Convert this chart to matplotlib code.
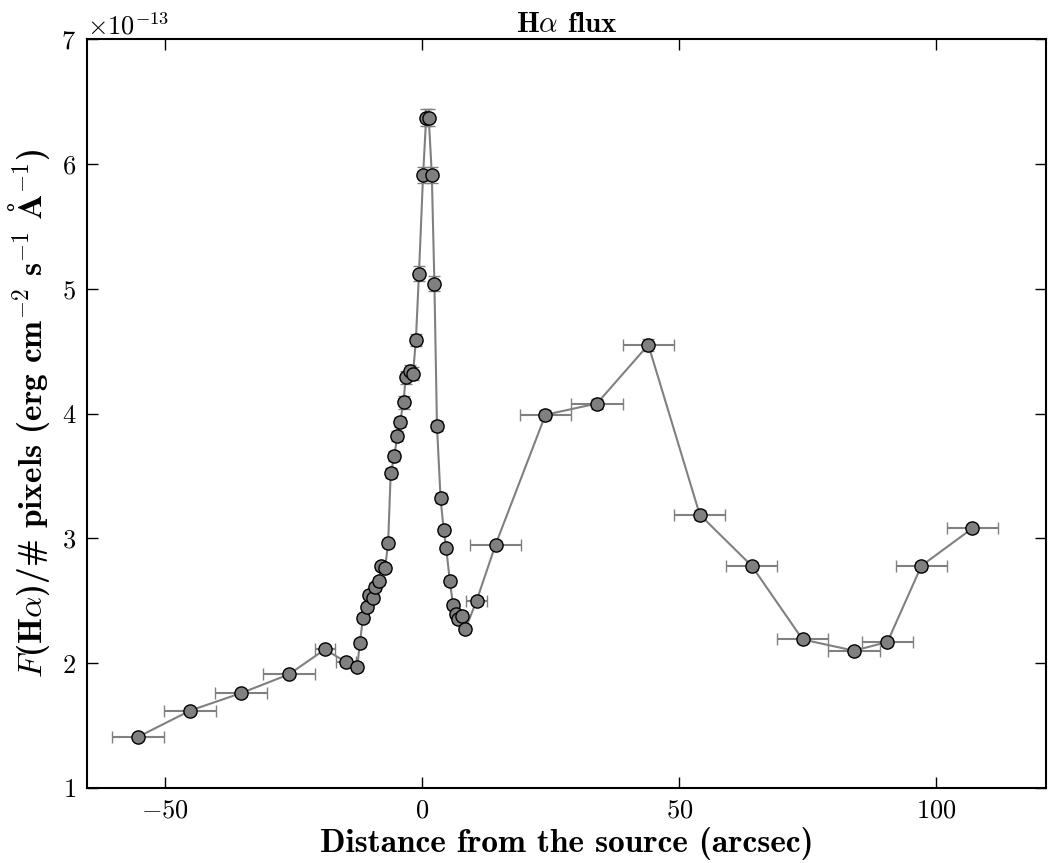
import numpy as np
import matplotlib
matplotlib.use('Agg')
import matplotlib.pyplot as plt

#Distance from the source (arcsec), flux per pixel (units of 1e-13) and errors
distance = [-55.2, -45.1, -35.2, -25.9, -18.9, -14.8, -12.6, -12.1, -11.5, -10.8,
            -10.3, -9.6, -9.1, -8.4, -7.9, -7.2, -6.6, -6.1, -5.4, -4.8,
            -4.3, -3.6, -3.2, -2.4, -1.75, -1.2, -0.6, 0.2, 0.8, 1.3,
            1.9, 2.4, 2.9, 3.6, 4.2, 4.7, 5.4, 6.0, 6.6, 7.0,
            7.8, 8.4, 10.6, 14.3, 24.0, 34.0, 44.0, 54.0, 64.1, 74.0,
            84.0, 90.5, 97.1, 107.0]
flux = [1.41, 1.62, 1.76, 1.91, 2.11, 2.01, 1.97, 2.16, 2.36, 2.45,
        2.55, 2.52, 2.61, 2.66, 2.78, 2.76, 2.96, 3.52, 3.66, 3.82,
        3.93, 4.09, 4.29, 4.34, 4.32, 4.59, 5.12, 5.91, 6.37, 6.37,
        5.91, 5.04, 3.90, 3.32, 3.07, 2.92, 2.66, 2.47, 2.39, 2.35,
        2.38, 2.27, 2.50, 2.95, 3.99, 4.08, 4.55, 3.19, 2.78, 2.19,
        2.10, 2.17, 2.78, 3.08]
distance_err = [5, 5, 5, 5, 2, 2, 0.3, 0.3, 0.3, 0.3,
                0.3, 0.3, 0.3, 0.3, 0.3, 0.3, 0.3, 0.3, 0.3, 0.3,
                0.3, 0.3, 0.3, 0.3, 0.3, 0.3, 0.3, 0.3, 0.3, 0.3,
                0.3, 0.3, 0.3, 0.3, 0.3, 0.3, 0.3, 0.3, 0.3, 0.3,
                0.3, 0.3, 2, 5, 5, 5, 5, 5, 5, 5,
                5, 5, 5, 5]
flux_err = [0.02, 0.02, 0.02, 0.02, 0.03, 0.03, 0.03, 0.03, 0.03, 0.03,
            0.03, 0.03, 0.03, 0.03, 0.03, 0.03, 0.03, 0.04, 0.04, 0.04,
            0.04, 0.05, 0.05, 0.05, 0.05, 0.05, 0.06, 0.065, 0.07, 0.07,
            0.065, 0.06, 0.04, 0.04, 0.03, 0.03, 0.03, 0.03, 0.03, 0.03,
            0.03, 0.03, 0.03, 0.03, 0.04, 0.04, 0.05, 0.04, 0.03, 0.03,
            0.03, 0.03, 0.03, 0.03]

x = np.array(distance)
y = np.array(flux) * 1e-13
xerr = np.array(distance_err)
yerr = np.array(flux_err) * 1e-13

plt.rcParams['mathtext.fontset'] = 'cm'
plt.rcParams['font.family'] = ['cmr10', 'DejaVu Serif']
plt.rcParams['axes.formatter.use_mathtext'] = True
plt.rcParams['axes.unicode_minus'] = True

fig = plt.figure(figsize=(10.49, 8.63), dpi=100)
ax = fig.add_axes([0.0832, 0.0869, 0.9138, 0.8679])

ax.errorbar(x, y, xerr=xerr, yerr=yerr, fmt='o-', color='gray', ecolor='gray',
            mfc='gray', mec='black', mew=1.0, ms=9.5, lw=1.5, elinewidth=1.5,
            capsize=4.5, capthick=1.5)

ax.set_xlim(-65.1, 121.3)
ax.set_ylim(1e-13, 7e-13)
ax.set_xticks([-50, 0, 50, 100])
ax.set_yticks(np.arange(1, 8) * 1e-13)

ax.tick_params(direction='in', top=True, right=True, length=8, width=1,
               labelsize=19, pad=8)
for spine in ax.spines.values():
    spine.set_linewidth(1.5)
ax.yaxis.get_offset_text().set_fontsize(19)

bold = ['cmb10', 'DejaVu Serif']
ax.set_title(r'H$\alpha$ flux', fontsize=21, family=bold, pad=5)
ax.set_xlabel('Distance from the source (arcsec)', fontsize=24, family=bold, labelpad=3)
ax.set_ylabel(r'$F$(H$\alpha$)/# pixels (erg cm$^{-2}$ s$^{-1}$ $\mathbf{\AA}^{-1}$)',
              fontsize=24, family=bold, labelpad=7)

plt.savefig('out.png', dpi=100)
